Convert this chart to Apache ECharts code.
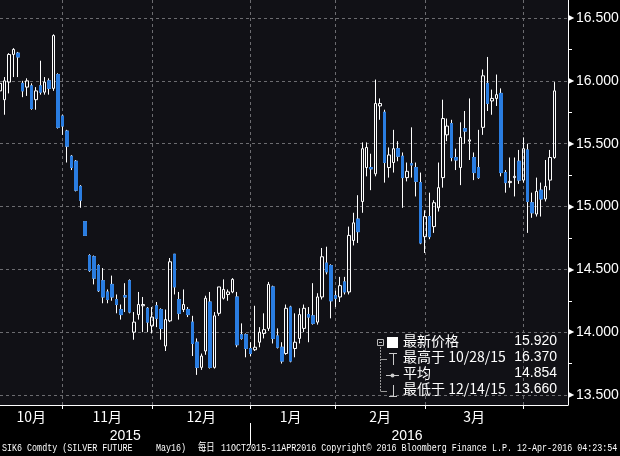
<!DOCTYPE html>
<html><head><meta charset="utf-8">
<script src="https://cdn.jsdelivr.net/npm/echarts@6/dist/echarts.min.js"></script>
<style>html,body{margin:0;padding:0;background:#000;}#c{width:620px;height:456px;}</style>
</head><body><div id="c"></div>
<script>
const dates = [
'2015-10-12','2015-10-13','2015-10-14','2015-10-15','2015-10-16','2015-10-19','2015-10-20','2015-10-21','2015-10-22','2015-10-23','2015-10-26','2015-10-27','2015-10-28','2015-10-29','2015-10-30',
'2015-11-02','2015-11-03','2015-11-04','2015-11-05','2015-11-06','2015-11-09','2015-11-10','2015-11-11','2015-11-12','2015-11-13','2015-11-16','2015-11-17','2015-11-18','2015-11-19','2015-11-20','2015-11-23','2015-11-24','2015-11-25','2015-11-27','2015-11-30',
'2015-12-01','2015-12-02','2015-12-03','2015-12-04','2015-12-07','2015-12-08','2015-12-09','2015-12-10','2015-12-11','2015-12-14','2015-12-15','2015-12-16','2015-12-17','2015-12-18','2015-12-21','2015-12-22','2015-12-23','2015-12-24','2015-12-28','2015-12-29','2015-12-30','2015-12-31',
'2016-01-04','2016-01-05','2016-01-06','2016-01-07','2016-01-08','2016-01-11','2016-01-12','2016-01-13','2016-01-14','2016-01-15','2016-01-19','2016-01-20','2016-01-21','2016-01-22','2016-01-25','2016-01-26','2016-01-27','2016-01-28','2016-01-29',
'2016-02-01','2016-02-02','2016-02-03','2016-02-04','2016-02-05','2016-02-08','2016-02-09','2016-02-10','2016-02-11','2016-02-12','2016-02-16','2016-02-17','2016-02-18','2016-02-19','2016-02-22','2016-02-23','2016-02-24','2016-02-25','2016-02-26','2016-02-29',
'2016-03-01','2016-03-02','2016-03-03','2016-03-04','2016-03-07','2016-03-08','2016-03-09','2016-03-10','2016-03-11','2016-03-14','2016-03-15','2016-03-16','2016-03-17','2016-03-18','2016-03-21','2016-03-22','2016-03-23','2016-03-24','2016-03-28','2016-03-29','2016-03-30','2016-03-31',
'2016-04-01','2016-04-04','2016-04-05','2016-04-06','2016-04-07','2016-04-08','2016-04-11'
];
const opens = [
15.92,15.85,15.99,16.21,16.22,15.98,15.95,15.96,15.85,15.96,15.91,16.00,15.94,16.05,15.72,
15.60,15.40,15.36,15.16,14.88,14.61,14.60,14.53,14.41,14.32,14.38,14.26,14.18,14.29,14.41,14.00,14.14,14.21,14.19,14.05,
14.21,14.18,13.89,14.09,14.62,14.26,14.18,14.18,14.08,13.92,13.72,13.85,14.24,13.72,14.15,14.27,14.30,14.32,14.28,13.98,13.98,13.87,
13.86,13.92,13.99,14.03,14.36,13.97,13.88,13.83,14.20,13.87,13.95,14.03,14.14,14.13,14.08,14.28,14.55,14.53,14.29,
14.28,14.40,14.32,14.73,14.90,15.04,15.31,15.31,15.26,15.80,15.75,15.31,15.35,15.46,15.40,15.23,15.34,15.31,15.19,14.76,
14.92,14.84,14.99,15.23,15.57,15.66,15.39,15.31,15.62,15.52,15.39,15.31,15.63,15.98,15.84,15.86,15.90,15.27,15.19,15.23,15.36,15.21,
15.45,15.03,14.94,15.13,15.06,15.21,15.39
];
const closes = [
15.98,16.00,16.21,16.25,16.19,15.92,16.00,15.78,15.92,15.91,15.99,15.94,16.36,15.63,15.64,
15.48,15.31,15.13,15.05,14.77,14.49,14.43,14.33,14.28,14.26,14.28,14.22,14.14,14.28,14.16,14.08,14.22,14.22,14.08,14.12,
14.11,14.03,14.10,14.56,14.36,14.15,14.22,14.14,13.91,13.72,13.81,14.27,13.72,14.13,14.36,14.34,14.32,14.42,13.90,13.95,13.87,13.83,
13.88,14.00,14.02,14.38,13.95,13.88,13.77,14.19,13.77,13.92,14.14,14.19,14.12,14.07,14.28,14.60,14.48,14.25,14.27,
14.37,14.32,14.77,14.87,14.80,15.46,15.47,15.30,15.82,15.82,15.35,15.41,15.46,15.40,15.23,15.28,15.33,15.20,14.71,14.92,
14.76,15.03,15.15,15.70,15.64,15.39,15.37,15.55,15.60,15.53,15.27,15.23,16.04,15.82,15.86,15.89,15.27,15.19,15.20,15.24,15.21,15.46,
15.04,14.95,15.12,15.06,15.16,15.39,15.92
];
const lows = [
15.90,15.73,15.90,16.03,16.03,15.87,15.88,15.77,15.77,15.89,15.89,15.89,15.92,15.62,15.57,
15.35,15.29,15.12,14.99,14.77,14.48,14.38,14.32,14.23,14.23,14.25,14.15,14.10,14.16,14.15,13.94,14.10,14.00,14.00,13.99,
14.04,13.94,13.85,14.08,14.30,14.10,14.16,14.12,13.81,13.66,13.70,13.82,13.71,13.71,14.13,14.26,14.25,14.31,13.88,13.94,13.80,13.81,
13.85,13.88,13.95,14.01,13.91,13.87,13.75,13.82,13.76,13.80,13.91,14.00,13.92,14.06,14.06,14.26,14.46,14.11,14.20,
14.24,14.30,14.30,14.69,14.71,14.95,15.24,15.13,15.24,15.69,15.19,15.23,15.27,15.36,14.99,15.20,15.23,15.08,14.70,14.63,
14.74,14.79,14.96,15.15,15.52,15.36,15.29,15.17,15.50,15.37,15.21,15.22,15.57,15.76,15.73,15.80,15.24,15.11,15.15,15.08,15.18,15.19,
14.79,14.91,14.92,14.92,15.04,15.13,15.38
];
const highs = [
16.07,16.03,16.22,16.26,16.23,16.00,16.02,15.98,15.95,16.16,16.03,16.02,16.37,16.06,15.73,
15.61,15.41,15.37,15.17,14.88,14.62,14.61,14.54,14.51,14.34,14.45,14.30,14.22,14.39,14.42,14.16,14.32,14.28,14.20,14.20,
14.24,14.19,14.18,14.59,14.62,14.32,14.34,14.20,14.13,13.95,13.83,14.29,14.32,14.16,14.36,14.42,14.34,14.43,14.32,14.07,13.99,13.92,
14.21,14.04,14.15,14.40,14.37,14.03,13.92,14.22,14.21,14.15,14.19,14.22,14.20,14.39,14.31,14.67,14.68,14.54,14.33,
14.44,14.44,14.84,14.95,15.09,15.51,15.51,15.42,16.01,15.86,15.77,15.47,15.61,15.52,15.43,15.35,15.63,15.35,15.27,14.97,
15.11,15.05,15.35,15.85,15.70,15.69,15.46,15.67,15.76,15.86,15.43,15.61,16.09,16.19,15.93,16.05,15.94,15.29,15.39,15.39,15.45,15.55,
15.50,15.11,15.23,15.19,15.37,15.45,15.99
];
const padSlots = [' ', '  ', '   '];
const monthLabels = ['10月','11月','12月','1月','2月','3月'];
const monthLabelIdx = [7, 24, 45, 65, 85, 106];
const monthEndIdx = [14, 34, 56, 75, 95, 117];
const yearLabels = ['2015','2016'];
const yearLabelIdx = [28, 91];
const yearSplitIdx = 56;
const legendNames = ['最新价格','最高于 10/28/15','平均','最低于 12/14/15'];
const legendValues = ['15.920','16.370','14.854','13.660'];
const lastPriceText = '15.920';
const footerParts = ['SIK6 Comdty (SILVER FUTURE', 'May16)', '每日', '11OCT2015-11APR2016 Copyright© 2016 Bloomberg Finance L.P. 12-Apr-2016 04:23:54'];

const cats = dates.concat(padSlots);
const ohlc = dates.map((d, i) => [opens[i], closes[i], lows[i], highs[i]]);
const downBodies = [];
dates.forEach((d, i) => { if (closes[i] < opens[i]) downBodies.push([i, opens[i], closes[i], closes[i], opens[i]]); });

const BLUE = '#2a7de1';
const GRIDC = '#6c6c70';
const CJK = '"Noto Sans CJK SC", "Liberation Sans", sans-serif';

const chart = echarts.init(document.getElementById('c'), null, {renderer: 'canvas'});

const legendRowY = [343, 359, 375, 391];
const graphics = [];
legendNames.forEach((n, k) => {
  graphics.push({type: 'text', left: 403, top: legendRowY[k] - 9, z: 10,
    style: {text: n, fill: '#fff', font: '14px ' + CJK}});
  graphics.push({type: 'text', right: 63, top: legendRowY[k] - 9, z: 10,
    style: {text: legendValues[k], fill: '#fff', font: '14px "Liberation Sans", sans-serif', textAlign: 'right'}});
});
graphics.push(
  {type: 'line', z: 10, shape: {x1: 380.5, y1: 347, x2: 380.5, y2: 391}, style: {stroke: '#9a9a9a', lineWidth: 1, lineDash: [2, 1]}},
  {type: 'line', z: 10, shape: {x1: 380.5, y1: 359.5, x2: 387, y2: 359.5}, style: {stroke: '#9a9a9a', lineWidth: 1}},
  {type: 'line', z: 10, shape: {x1: 380.5, y1: 391.5, x2: 387, y2: 391.5}, style: {stroke: '#9a9a9a', lineWidth: 1}},
  {type: 'rect', z: 10, shape: {x: 377.5, y: 339.5, width: 6, height: 6}, style: {stroke: '#bbb', fill: '#111116', lineWidth: 1}},
  {type: 'line', z: 10, shape: {x1: 379, y1: 342.5, x2: 382, y2: 342.5}, style: {stroke: '#bbb', lineWidth: 1}},
  {type: 'rect', z: 10, shape: {x: 387, y: 337, width: 11, height: 11}, style: {fill: '#fff'}},
  {type: 'line', z: 10, shape: {x1: 389, y1: 353.5, x2: 397, y2: 353.5}, style: {stroke: '#ccc', lineWidth: 1}},
  {type: 'line', z: 10, shape: {x1: 393.5, y1: 353, x2: 393.5, y2: 365}, style: {stroke: '#ccc', lineWidth: 1}},
  {type: 'line', z: 10, shape: {x1: 386, y1: 375.5, x2: 399, y2: 375.5}, style: {stroke: '#ccc', lineWidth: 1}},
  {type: 'circle', z: 10, shape: {cx: 392.5, cy: 375.5, r: 2}, style: {fill: '#ccc'}},
  {type: 'line', z: 10, shape: {x1: 393.5, y1: 385, x2: 393.5, y2: 396}, style: {stroke: '#ccc', lineWidth: 1}},
  {type: 'line', z: 10, shape: {x1: 389, y1: 396.5, x2: 397, y2: 396.5}, style: {stroke: '#ccc', lineWidth: 1}}
);
const footX = [2, 156, 198, 221];
footerParts.forEach((t, k) => {
  graphics.push({type: 'text', x: footX[k], y: 443, scaleX: 0.76, z: 10,
    style: {text: t, fill: '#fff', font: '11px "Liberation Mono", "Noto Sans CJK SC", monospace'}});
});

const option = {
  backgroundColor: '#000',
  animation: false,
  grid: [
    {left: 0, right: 52, top: 18, bottom: 61, containLabel: false, outerBoundsMode: 'none'},
    {left: 0, right: 52, top: 0, bottom: 51, containLabel: false, outerBoundsMode: 'none', show: true, backgroundColor: '#111116', borderWidth: 0}
  ],
  xAxis: [
    {gridIndex: 0, type: 'category', data: cats, boundaryGap: false,
      axisLine: {show: false}, axisTick: {show: false}, axisLabel: {show: false}, splitLine: {show: false}},
    {gridIndex: 1, type: 'category', data: cats, boundaryGap: false, position: 'bottom',
      axisLine: {show: true, lineStyle: {color: '#fff', width: 1}},
      axisTick: {show: true, interval: (i) => monthEndIdx.includes(i), length: 4, lineStyle: {color: '#fff'}},
      axisLabel: {show: true, interval: (i) => monthLabelIdx.includes(i),
        formatter: (v, i) => monthLabels[monthLabelIdx.indexOf(i)] || '',
        color: '#fff', fontSize: 14, fontFamily: CJK, margin: 5},
      splitLine: {show: true, interval: (i) => monthEndIdx.includes(i), lineStyle: {color: GRIDC, type: [3, 3], width: 1}}},
    {gridIndex: 1, type: 'category', data: cats, boundaryGap: false, position: 'bottom', offset: 18,
      axisLine: {show: false},
      axisTick: {show: true, interval: (i) => i === yearSplitIdx, length: 22, lineStyle: {color: '#fff'}},
      axisLabel: {show: true, interval: (i) => yearLabelIdx.includes(i),
        formatter: (v, i) => yearLabels[yearLabelIdx.indexOf(i)] || '',
        color: '#fff', fontSize: 14, fontFamily: '"Liberation Sans", sans-serif', margin: 6},
      splitLine: {show: false}}
  ],
  yAxis: [
    {gridIndex: 0, type: 'value', position: 'right', min: 13.5, max: 16.5, interval: 0.5,
      axisLine: {show: true, lineStyle: {color: '#fff'}},
      axisTick: {show: false},
      minorTick: {show: true, splitNumber: 2, length: 4, lineStyle: {color: '#fff'}},
      minorSplitLine: {show: false},
      splitLine: {show: true, lineStyle: {color: GRIDC, type: [3, 3], width: 1}},
      axisLabel: {show: true, margin: 0, formatter: (v) => '{t|▶}{v|' + v.toFixed(3) + '}',
        rich: {t: {color: '#fff', fontSize: 8, padding: [0, 2, 0, 0]},
               v: {color: '#fff', fontSize: 14, fontFamily: '"Liberation Sans", sans-serif'}}}},
    {gridIndex: 1, type: 'value', position: 'right', min: 0, max: 1,
      axisLine: {show: true, lineStyle: {color: '#fff'}}, axisTick: {show: false},
      axisLabel: {show: false}, splitLine: {show: false}}
  ],
  series: [
    {type: 'candlestick', xAxisIndex: 0, yAxisIndex: 0, data: ohlc, barWidth: 3,
      itemStyle: {color: 'transparent', color0: BLUE, borderColor: '#fff', borderColor0: '#fff', borderWidth: 1},
      markLine: {silent: true, symbol: ['none', 'none'], animation: false,
        lineStyle: {opacity: 0},
        label: {show: true, position: 'end', distance: 0,
          formatter: '{a|◀}{b|' + lastPriceText + '}',
          rich: {a: {color: '#fff', fontSize: 9, padding: [0, 0, 0, 0]},
                 b: {backgroundColor: '#fff', color: '#000', fontSize: 14, fontFamily: '"Liberation Sans", sans-serif', padding: [2, 3, 1, 2]}}},
        data: [{yAxis: closes[closes.length - 1]}]}},
    {type: 'candlestick', xAxisIndex: 0, yAxisIndex: 0, data: downBodies, barWidth: 3,
      encode: {x: 0, y: [1, 2, 3, 4]},
      itemStyle: {color: BLUE, color0: BLUE, borderColor: BLUE, borderColor0: BLUE, borderWidth: 1}}
  ],
  graphic: graphics
};
chart.setOption(option);
</script></body></html>
